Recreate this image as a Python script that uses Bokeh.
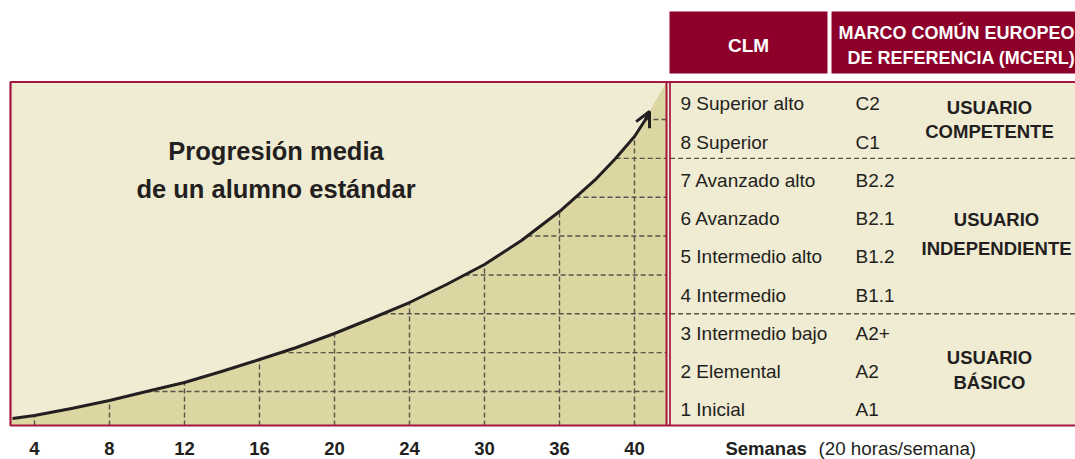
from bokeh.plotting import figure
from bokeh.models import Range1d, FixedTicker, Arrow, OpenHead
from bokeh.core.properties import value
from bokeh.embed import file_html
from bokeh.resources import INLINE
import numpy as np

# ---------------- data ----------------
tick_pos = [1, 2, 3, 4, 5, 6, 7, 8, 9]
tick_labels = ["4", "8", "12", "16", "20", "24", "30", "36", "40"]

# average progression curve (x: week-tick position, y: level scale)
curve_x = [0.707, 1.0, 1.493, 2.0, 2.493, 3.0, 3.493, 4.0, 4.493, 5.0, 5.493, 6.0,
           6.493, 7.0, 7.493, 8.0, 8.493, 8.747, 9.0, 9.147, 9.2]
curve_y = [0.305, 0.382, 0.562, 0.768, 1.0, 1.232, 1.515, 1.824, 2.132, 2.493, 2.879,
           3.29, 3.754, 4.268, 4.886, 5.632, 6.481, 6.996, 7.562, 8.0, 8.206]

grid_levels = [1, 2, 3, 4, 5, 6, 7, 8]

clm_levels = ["1 Inicial", "2 Elemental", "3 Intermedio bajo", "4 Intermedio",
              "5 Intermedio alto", "6 Avanzado", "7 Avanzado alto", "8 Superior",
              "9 Superior alto"]
mcerl_levels = ["A1", "A2", "A2+", "B1.1", "B1.2", "B2.1", "B2.2", "C1", "C2"]
group_line1 = ["USUARIO", "USUARIO", "USUARIO"]
group_line2 = ["BÁSICO", "INDEPENDIENTE", "COMPETENTE"]
group_bounds = [3, 7]

title_lines = ["Progresión media", "de un alumno estándar"]
header_clm = "CLM"
header_mcerl = ["MARCO COMÚN EUROPEO", "DE REFERENCIA (MCERL)"]
xlabel_bold = "Semanas"
xlabel_rest = "(20 horas/semana)"

# ---------------- style ----------------
CREAM = "#f0ebd3"
KHAKI = "#dcd6a3"
CRIMSON = "#a3173f"
DARKRED = "#8c0029"
INK = "#231f20"
DASH = "#55534a"
SANS = "Liberation Sans"

# layout (data units)
X0, X_PLOT_R, X_TAB_L, X_FAR = 0.68, 9.4267, 9.4733, 16.0
Y_BOT, Y_TOP = 0.125, 8.965

p = figure(width=1075, height=459, x_range=Range1d(0.5467, 14.88),
           y_range=Range1d(-0.75, 11.0625), output_backend="svg",
           toolbar_location=None, y_axis_location=None, min_border=0)
p.grid.visible = False
p.outline_line_color = None
p.background_fill_color = "white"
p.border_fill_color = "white"

ax = p.xaxis[0]
ax.fixed_location = Y_BOT
ax.ticker = FixedTicker(ticks=tick_pos)
ax.major_label_overrides = {t: l for t, l in zip(tick_pos, tick_labels)}
ax.axis_line_color = None
ax.major_tick_line_color = None
ax.minor_tick_line_color = None
ax.major_label_standoff = 10
ax.major_label_text_font = SANS
ax.major_label_text_font_style = "bold"
ax.major_label_text_font_size = "18.5px"
ax.major_label_text_color = INK

# panel background
p.quad(left=[X0], right=[X_FAR], bottom=[Y_BOT], top=[Y_TOP],
       fill_color=CREAM, line_color=None)

# area under curve
fx = [X0, X0] + curve_x + [X_PLOT_R, X_PLOT_R]
fy = [Y_BOT, curve_y[0] - 0.01] + curve_y + [Y_TOP, Y_BOT]
p.patch(fx, fy, fill_color=KHAKI, line_color=None)

# dashed grid under the curve
v_top = np.interp(tick_pos, curve_x, curve_y)
p.segment(x0=tick_pos, x1=tick_pos, y0=[Y_BOT] * len(tick_pos), y1=v_top,
          line_color=DASH, line_width=1.4, line_dash="5 3")
h_start = np.interp(grid_levels, curve_y, curve_x)
p.segment(x0=h_start, x1=[X_PLOT_R] * len(grid_levels), y0=grid_levels,
          y1=grid_levels, line_color=DASH, line_width=1.4, line_dash="5 3")

# curve + arrow
p.line(curve_x, curve_y, line_color=INK, line_width=3, line_join="round")
p.add_layout(Arrow(end=OpenHead(size=15, line_width=3, line_color=INK),
                   x_start=curve_x[-2], y_start=curve_y[-2],
                   x_end=curve_x[-1], y_end=curve_y[-1],
                   line_color=INK, line_width=3))

# table separators
p.segment(x0=[X_TAB_L] * 2, x1=[X_FAR] * 2, y0=group_bounds, y1=group_bounds,
          line_color=DASH, line_width=1.4, line_dash="5 3")

# borders
p.quad(left=[X0], right=[X_FAR], bottom=[Y_BOT], top=[Y_TOP],
       fill_color=None, line_color=CRIMSON, line_width=2.2)
p.segment(x0=[X_PLOT_R], x1=[X_PLOT_R], y0=[Y_BOT], y1=[Y_TOP],
          line_color=CRIMSON, line_width=2)
p.segment(x0=[X_TAB_L], x1=[X_TAB_L], y0=[Y_BOT], y1=[Y_TOP],
          line_color=CRIMSON, line_width=1.7)

# table text
row_y = [0.5239 + 0.9844 * i for i in range(len(clm_levels))]
p.text(x=[9.6133] * len(clm_levels), y=row_y, text=clm_levels,
       text_font=value(SANS), text_font_size="19px", text_color=INK,
       text_baseline="middle", text_align="left")
p.text(x=[11.9467] * len(mcerl_levels), y=row_y, text=mcerl_levels,
       text_font=value(SANS), text_font_size="19px", text_color=INK,
       text_baseline="middle", text_align="left")

g_x = [13.733, 13.827, 13.733]
g_y1 = [1.875, 5.426, 8.296]
g_y2 = [1.244, 4.680, 7.704]
for ys, txt in ((g_y1, group_line1), (g_y2, group_line2)):
    p.text(x=g_x, y=ys, text=txt, text_font=value(SANS),
           text_font_style="bold", text_font_size="18.5px", text_color=INK,
           text_baseline="middle", text_align="center")

# title
p.text(x=[4.22, 4.22], y=[7.202, 6.224], text=title_lines,
       text_font=value(SANS), text_font_style="bold", text_font_size="25.5px",
       text_color=INK, text_baseline="middle", text_align="center")

# header boxes
p.quad(left=[9.4667, 11.627], right=[11.573, X_FAR], bottom=[9.184, 9.184],
       top=[10.779, 10.779], fill_color=DARKRED, line_color=None)
p.text(x=[10.52], y=[9.917], text=[header_clm], text_font=value(SANS),
       text_font_style="bold", text_font_size="19px", text_color="white",
       text_baseline="middle", text_align="center")
p.text(x=[11.72, 11.84], y=[10.221, 9.590], text=header_mcerl,
       text_font=value(SANS), text_font_style="bold", text_font_size="18px",
       text_color="white", text_baseline="middle", text_align="left")

# x label below the table
p.text(x=[10.213], y=[-0.467], text=[xlabel_bold], text_font=value(SANS),
       text_font_style="bold", text_font_size="18.5px", text_color=INK,
       text_baseline="middle", text_align="left")
p.text(x=[11.453], y=[-0.467], text=[xlabel_rest], text_font=value(SANS),
       text_font_size="18.8px", text_color=INK,
       text_baseline="middle", text_align="left")

open("out.html", "w").write(file_html(p, INLINE))
